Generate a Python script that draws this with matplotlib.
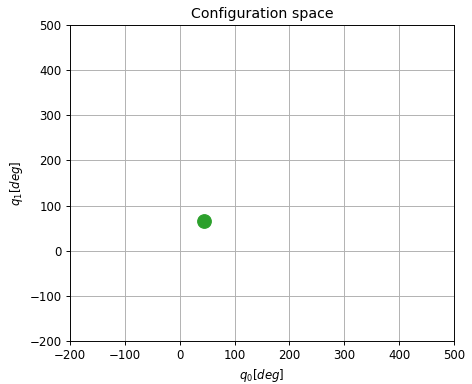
import matplotlib
matplotlib.use("Agg")
import matplotlib.pyplot as plt

q0 = [45]
q1 = [65]

dpi = 85
fig = plt.figure(figsize=(472/dpi, 384/dpi), dpi=dpi)
ax = fig.add_axes([70/472, 1-341/384, 384/472, 316/384])
ax.plot(q0, q1, "o", color="#2ca02c", markersize=11.5)
ax.set_xlim(-200, 500)
ax.set_ylim(-200, 500)
ax.grid(True)
ax.set_axisbelow(True)
ax.set_xlabel('$q_0 [deg]$')
ax.set_ylabel('$q_1 [deg]$')
ax.set_title("Configuration space")
fig.savefig("out.png", dpi=dpi)
